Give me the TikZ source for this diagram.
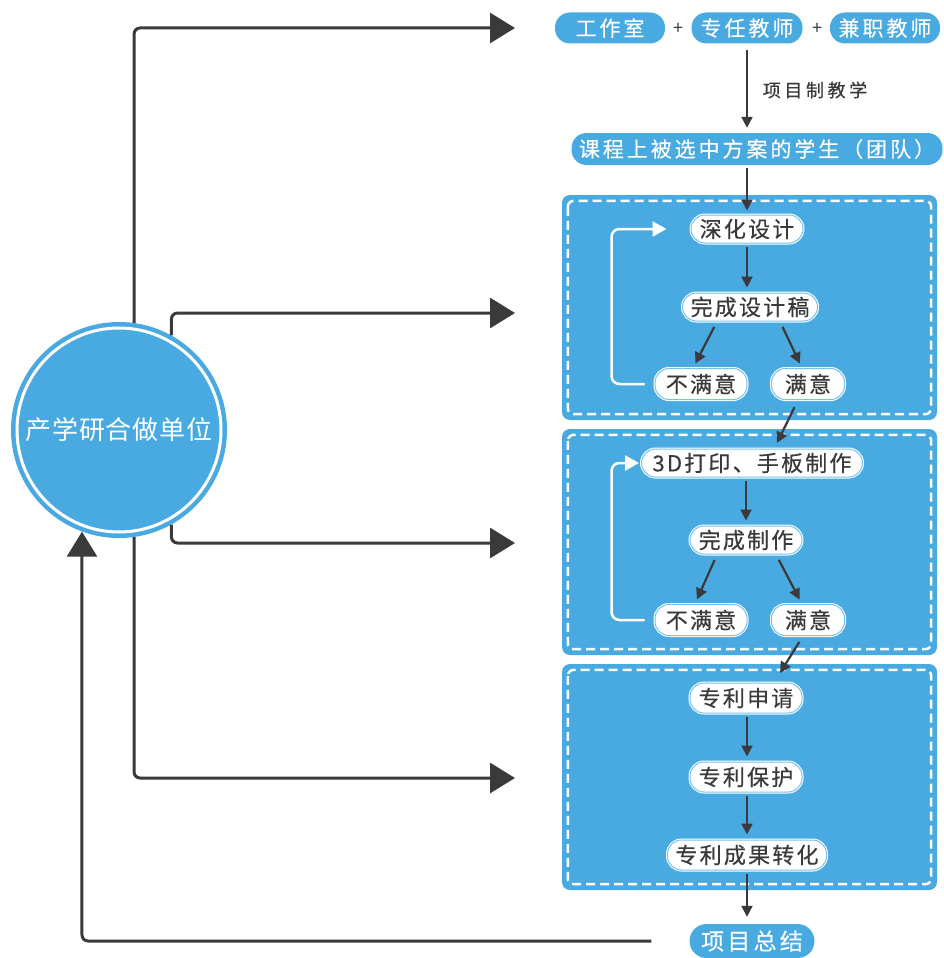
\documentclass[tikz,border=0pt]{standalone}
\usepackage{fontspec}
\newfontfamily\cjk{Noto Sans CJK SC}
\newfontfamily\cjksp{Noto Sans CJK SC}[LetterSpace=14,FakeBold=0.3]
\newfontfamily\cjkw{Noto Sans CJK SC}[LetterSpace=10,FakeBold=0.4]
\newfontfamily\cjklab{Noto Sans CJK SC}[LetterSpace=20,FakeBold=0.6]
\newfontfamily\cjkc{Noto Sans CJK SC}[LetterSpace=3]
\usetikzlibrary{arrows.meta}
\definecolor{bl}{RGB}{72,170,224}
\definecolor{dk}{RGB}{58,58,60}
\definecolor{ring}{RGB}{120,194,236}
\tikzset{
  bpill/.style={rectangle, rounded corners=15pt, fill=bl, text=white, minimum height=31pt, inner xsep=4pt, inner ysep=0pt, font=\cjksp\fontsize{21pt}{24pt}\selectfont},
  wpill/.style={rectangle, rounded corners=14pt, fill=white, draw=white, double=ring, double distance=1pt, line width=1pt, text=dk, minimum height=28pt, inner xsep=4pt, inner ysep=0pt, font=\cjkw\fontsize{22pt}{24pt}\selectfont},
  bigbox/.style={rectangle, rounded corners=8pt, fill=bl, inner sep=0pt, minimum width=375pt},
  dashin/.style={draw=white, line width=2.5pt, dash pattern=on 9pt off 5pt, rounded corners=6pt},
  arr/.style={draw=dk, line width=2.2pt, -{Triangle[length=11pt,width=11pt]}},
  bigarr/.style={draw=dk, line width=3pt, rounded corners=6pt, -{Triangle[length=25pt,width=30pt]}},
  wloop/.style={draw=white, line width=2.5pt, rounded corners=8pt, -{Triangle[length=14pt,width=15pt]}},
  plus/.style={text=dk, font=\cjk\fontsize{18pt}{20pt}\selectfont}
}
\begin{document}
\begin{tikzpicture}[x=1pt,y=-1pt]
\useasboundingbox[fill=white] (0,0) rectangle (944,958);

% boxes
\node[bigbox, minimum height=225pt] (b1) at (749.5,307.5) {};
\node[bigbox, minimum height=226pt] (b2) at (749.5,542) {};
\node[bigbox, minimum height=226pt] (b3) at (749.5,777) {};
\foreach \b in {b1,b2,b3}{
  \draw[dashin] ([shift={(6,6)}]\b.north west) rectangle ([shift={(-6,-6)}]\b.south east);
}

% top row
\node[bpill, minimum width=110pt] (gz) at (610,28) {工作室};
\node[plus] (p1) at (678,29) {+};
\node[bpill, minimum width=111pt] (zr) at (747,28) {专任教师};
\node[plus] (p2) at (817,29) {+};
\node[bpill, minimum width=110pt] (jz) at (885,28) {兼职教师};
\node[text=dk, font=\cjklab\fontsize{18pt}{20pt}\selectfont] (lab) at (815,90) {项目制教学};
\node[bpill, minimum width=371pt, minimum height=32pt] (kc) at (757,149) {课程上被选中方案的学生（团队）};

% box 1
\node[wpill, minimum width=112pt] (sh) at (747,229) {深化设计};
\node[wpill, minimum width=135pt] (wc) at (750,307) {完成设计稿};
\node[wpill, minimum width=92pt, minimum height=31pt] (bm1) at (701,384) {不满意};
\node[wpill, minimum width=73pt, minimum height=31pt] (my1) at (808,384) {满意};

% box 2
\node[wpill, minimum width=221pt] (pd) at (752,463) {3D打印、手板制作};
\node[wpill, minimum width=112pt] (wz) at (746,540) {完成制作};
\node[wpill, minimum width=92pt, minimum height=31pt] (bm2) at (701,620) {不满意};
\node[wpill, minimum width=73pt, minimum height=31pt] (my2) at (808,620) {满意};

% box 3
\node[wpill, minimum width=112pt, minimum height=30pt] (zs) at (746,698) {专利申请};
\node[wpill, minimum width=112pt, minimum height=30pt] (bh) at (746,777) {专利保护};
\node[wpill, minimum width=159pt, minimum height=30pt] (zh) at (747,855) {专利成果转化};

% final
\node[bpill, minimum width=125pt, minimum height=34pt, rounded corners=17pt, font=\cjksp\fontsize{23pt}{26pt}\selectfont] (xm) at (752,941) {项目总结};

% circle
\node[circle, fill=bl, minimum size=216pt, inner sep=0pt, text=white, font=\cjkc\fontsize{26pt}{28pt}\selectfont] (c) at (119,430) {产学研合做单位};
\draw[white, line width=3pt] (c.center) circle[radius=102];

% coordinates
\coordinate (t1) at (515,28);
\coordinate (t2) at (515,313);
\coordinate (t3) at (515,543);
\coordinate (t4) at (515,778);
\coordinate (e1) at (777,443);
\coordinate (e2) at (780,673);

% big connectors
\draw[bigarr] (c.82.55) |- (t1);
\draw[bigarr] (c.61.8) |- (t2);
\draw[bigarr] (c.-61.8) |- (t3);
\draw[bigarr] (c.-82.55) |- (t4);
\draw[bigarr] ([xshift=-38pt]xm.west) -| (c.-110);

% top flow
\draw[arr, shorten <=6pt, shorten >=5pt] (zr.south) -- (zr.south |- kc.north);
\draw[arr, shorten <=3pt, shorten >=4pt] (kc.south -| sh.north) -- (sh.north);

% box 1 flow
\draw[arr, shorten <=3pt, shorten >=5pt] (sh.south) -- (sh.south |- wc.north);
\draw[arr, shorten <=6pt, shorten >=5pt] ([xshift=-33pt]wc.south) -- ([xshift=-8pt]bm1.north);
\draw[arr, shorten <=6pt, shorten >=5pt] ([xshift=30pt]wc.south) -- ([xshift=-6pt]my1.north);
\draw[wloop] ([xshift=-10pt]bm1.west) -- ++(-33,0) |- ([xshift=-24pt]sh.west);
\draw[arr, shorten <=8pt] ([xshift=-10pt]my1.south) -- (e1);

% box 2 flow
\draw[arr, shorten <=3pt, shorten >=5pt] (pd.south -| wz.north) -- (wz.north);
\draw[arr, shorten <=6pt, shorten >=5pt] ([xshift=-29pt]wz.south) -- ([xshift=-6pt]bm2.north);
\draw[arr, shorten <=6pt, shorten >=5pt] ([xshift=30pt]wz.south) -- ([xshift=-6pt]my2.north);
\draw[wloop] ([xshift=-10pt]bm2.west) -- ++(-33,0) |- ([xshift=-2pt]pd.west);
\draw[arr, shorten <=7pt] ([xshift=-5pt]my2.south) -- (e2);

% box 3 flow
\draw[arr, shorten <=3pt, shorten >=5pt] (zs.south -| zh.north) -- (bh.north -| zh.north);
\draw[arr, shorten <=3pt, shorten >=5pt] (bh.south -| zh.north) -- (zh.north);
\draw[arr, shorten <=3pt, shorten >=7pt] (zh.south) -- (zh.south |- xm.north);
\end{tikzpicture}
\end{document}
